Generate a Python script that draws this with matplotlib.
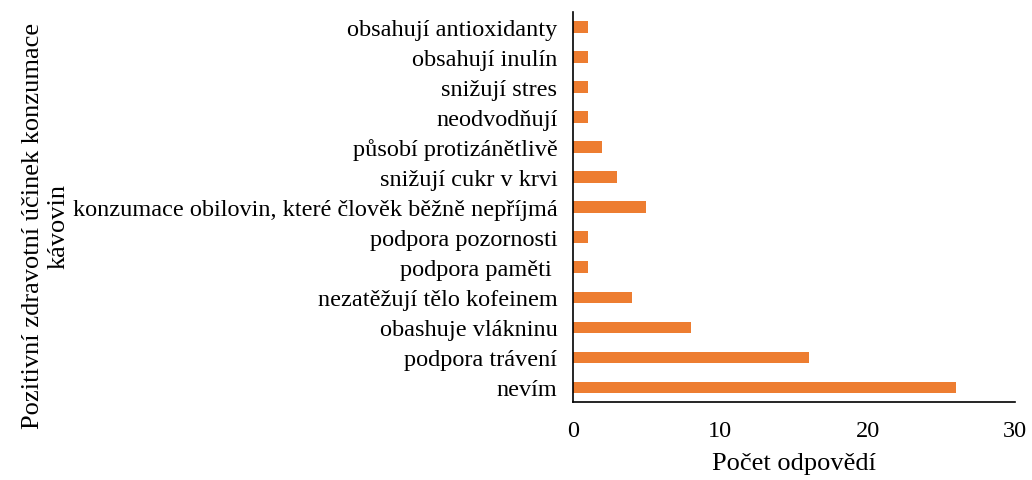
import matplotlib
matplotlib.use('Agg')
import matplotlib.pyplot as plt

# categories from bottom to top
odpovedi = ['nevím', 'podpora trávení', 'obashuje vlákninu',
            'nezatěžují tělo kofeinem', 'podpora paměti ', 'podpora pozornosti',
            'konzumace obilovin, které člověk běžně nepříjmá',
            'snižují cukr v krvi', 'působí protizánětlivě', 'neodvodňují',
            'snižují stres', 'obsahují inulín', 'obsahují antioxidanty']
pocty = [26, 16, 8, 4, 1, 1, 5, 3, 2, 1, 1, 1, 1]
x_ticks = [0, 10, 20, 30]

plt.rcParams['font.family'] = ['Liberation Serif', 'DejaVu Serif']

fig = plt.figure(figsize=(10.32, 4.81), dpi=100)
ax = fig.add_axes([0.555, 0.162, 0.4285, 0.811])

ax.barh(range(len(odpovedi)), pocty, height=0.37, color='#ED7D31')
ax.set_yticks(range(len(odpovedi)))
ax.set_yticklabels(odpovedi, fontsize=17.5)
ax.set_ylim(-0.5, len(odpovedi) - 0.5)
ax.set_xlim(0, 30)
ax.set_xticks(x_ticks)
ax.set_xticklabels([str(t) for t in x_ticks], fontsize=17.5)

for s in ['top', 'right']:
    ax.spines[s].set_visible(False)
ax.spines['left'].set_linewidth(1.2)
ax.spines['bottom'].set_linewidth(1.2)
ax.tick_params(axis='both', length=0)
ax.tick_params(axis='y', pad=11)
ax.tick_params(axis='x', pad=13)

ax.set_xlabel('Počet odpovědí', fontsize=19, labelpad=8)
fig.text(0.044, 0.53, 'Pozitivní zdravotní účinek konzumace\nkávovin',
         rotation=90, ha='center', va='center', multialignment='center',
         fontsize=19, linespacing=1.2)

fig.savefig('out.png', dpi=100)
